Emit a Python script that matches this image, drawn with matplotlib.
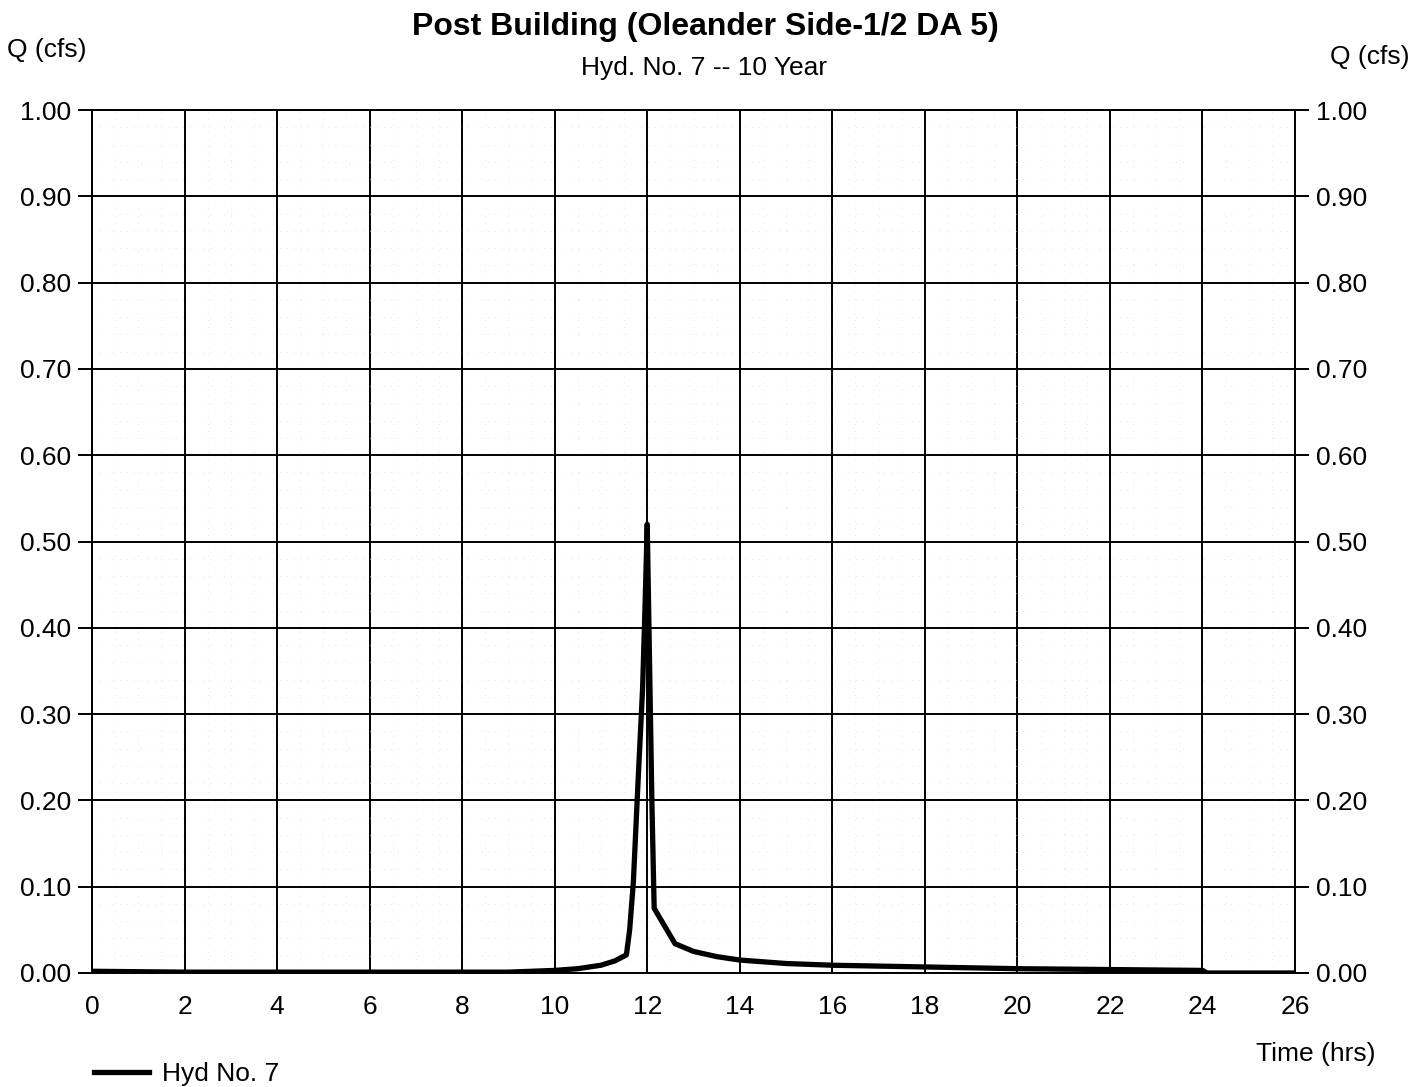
import numpy as np
import matplotlib
matplotlib.use("Agg")
import matplotlib.pyplot as plt
from matplotlib.ticker import MultipleLocator

plt.rcParams['font.family'] = ['Liberation Sans', 'DejaVu Sans']

# hydrograph (time in hrs, flow in cfs)
time_hrs = [0, 2, 4, 6, 8, 9, 10, 10.5, 11, 11.3, 11.55, 11.62, 11.7, 11.8, 11.9,
            11.95, 12.0, 12.05, 12.1, 12.15, 12.6, 13, 13.5, 14, 15, 16, 18, 20,
            22, 24, 24.1, 26]
flow_cfs = [0.002, 0.001, 0.001, 0.001, 0.001, 0.001, 0.003, 0.005, 0.009, 0.014,
            0.021, 0.05, 0.105, 0.22, 0.33, 0.42, 0.52, 0.36, 0.2, 0.075, 0.034,
            0.025, 0.019, 0.015, 0.011, 0.009, 0.007, 0.005, 0.004, 0.003, 0.0, 0.0]

x_ticks = np.arange(0, 27, 2)
y_ticks = np.arange(0, 1.01, 0.1)

fig = plt.figure(figsize=(14.28, 10.87), dpi=100)
ax = fig.add_axes([92 / 1428, 1 - 973 / 1087, (1295 - 92) / 1428, (973 - 110) / 1087])

ax.plot(time_hrs, flow_cfs, color='black', lw=3.8, label='Hyd No. 7', zorder=5,
        solid_joinstyle='round')

ax.set_xlim(0, 26)
ax.set_ylim(0, 1.0)
ax.set_xticks(x_ticks)
ax.set_yticks(y_ticks)
ax.set_yticklabels([f'{v:.2f}' for v in y_ticks])
ax.xaxis.set_minor_locator(MultipleLocator(0.5))
ax.yaxis.set_minor_locator(MultipleLocator(0.02))

ax.grid(True, which='major', color='black', lw=1.4)
ax.grid(True, which='minor', color='#d4d4d4', lw=0.5, ls=(0, (1, 9)))
ax.tick_params(axis='x', which='major', length=0, pad=16, labelsize=19)
ax.tick_params(axis='y', which='major', length=10, width=1.4, labelsize=19, pad=5,
               left=True, right=True, labelleft=True, labelright=True)
ax.tick_params(which='minor', length=0)
for s in ax.spines.values():
    s.set_linewidth(1.4)

fig.text(0.494, 1 - 27 / 1087, 'Post Building (Oleander Side-1/2 DA 5)', ha='center',
         va='center', fontsize=23, fontweight='bold')
fig.text(0.493, 1 - 68 / 1087, 'Hyd. No. 7 -- 10 Year', ha='center', va='center', fontsize=19)
fig.text(47 / 1428, 1 - 50 / 1087, 'Q (cfs)', ha='center', va='center', fontsize=19)
fig.text(1370 / 1428, 1 - 57 / 1087, 'Q (cfs)', ha='center', va='center', fontsize=19)
fig.text(1316 / 1428, 1 - 1054 / 1087, 'Time (hrs)', ha='center', va='center', fontsize=19)

fig.legend(loc='lower left', bbox_to_anchor=(70 / 1428, -0.021), frameon=False, fontsize=19,
           handlelength=2.1, handletextpad=0.5)

fig.savefig('out.png', dpi=100, facecolor='white')
